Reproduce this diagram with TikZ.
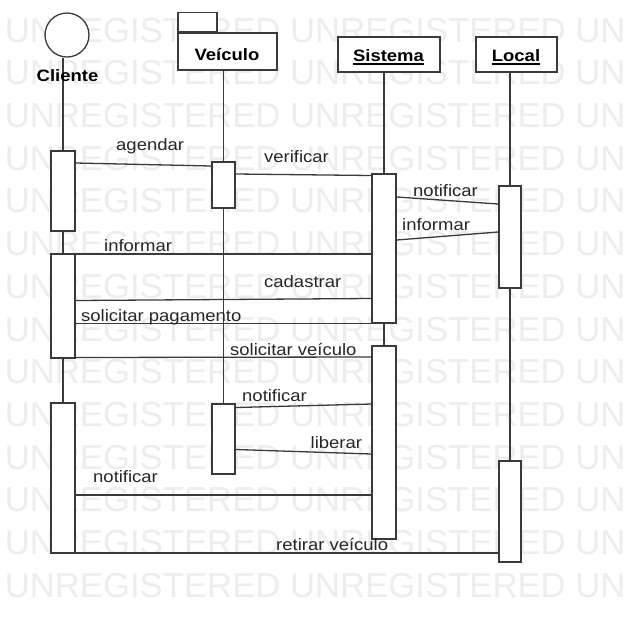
\documentclass[tikz,border=0pt]{standalone}
\usepackage{fontspec}
\setmainfont{Liberation Sans}[FakeStretch=1.12]
\newfontfamily\wmfont{Liberation Sans}
\usepackage{tikz}
\usepackage{xcolor}

\definecolor{umlline}{HTML}{3A3A3A}
\definecolor{umlmark}{HTML}{EDEDED}

\pgfdeclarelayer{wm}
\pgfdeclarelayer{bg}
\pgfsetlayers{wm,bg,main}

% underlined head label
\newcommand{\headul}[1]{{\setbox0\hbox{#1}\rlap{\rule[-3.2pt]{\wd0}{1.3pt}}\box0}}

\begin{document}
\begin{tikzpicture}[
            x = 1pt, y = -1pt, % pixel grid, y downwards
            font = \fontsize{16.5}{19}\selectfont,
            semithick % line style
        ]

        \tikzstyle{every node}=[inner sep = 0pt]
        \tikzstyle{head}=[
            shape = rectangle,
            draw = umlline,
            fill = white,
            line width = 1.6pt
        ]
        \tikzstyle{act}=[
            shape = rectangle,
            draw = umlline,
            fill = white,
            line width = 1.6pt,
            minimum width = 24pt
        ]
        \tikzstyle{msg}=[draw = umlline, line width = 1.3pt]
        \tikzstyle{life}=[draw = umlline, line width = 1.4pt]
        \tikzstyle{lbl}=[anchor = base west, text = black!85]

\useasboundingbox (0,0) rectangle (627,622);

% watermark
\begin{pgfonlayer}{wm}
\begin{scope}
\clip (0,0) rectangle (627,622);
\foreach \r in {0,...,13}
  \node[anchor=base west, text=umlmark, font=\wmfont\fontsize{34.7}{40}\selectfont] (wm\r) at (4.6, 42.1+42.7*\r) {UNREGISTERED UNREGISTERED UNREGISTERED};
\end{scope}
\end{pgfonlayer}

% heads
\node[shape=circle,draw=umlline,fill=white,line width=1.3pt,minimum size=44pt] (cliente) at (67,35) {};
\node[anchor=base,font=\fontsize{16.5}{19}\selectfont\bfseries] (clienteTxt) at (67.5,81.5) {Cliente};
\node[head,minimum width=99pt,minimum height=37pt] (veiculo) at (227.5,51.5) {};
\node[head,anchor=south west,minimum width=39pt,minimum height=19pt] (veiculoTab) at (veiculo.north west) {};
\node[anchor=base,font=\fontsize{16.5}{19}\selectfont\bfseries] (veiculoTxt) at (227,60) {Veículo};
\node[head,minimum width=102pt,minimum height=35pt] (sistema) at (389,54.5) {};
\node[anchor=base,font=\fontsize{16.5}{19}\selectfont\bfseries] (sistemaTxt) at (388.5,61.5) {\headul{Sistema}};
\node[head,minimum width=81pt,minimum height=35pt] (local) at (516.5,54.5) {};
\node[anchor=base,font=\fontsize{16.5}{19}\selectfont\bfseries] (localTxt) at (516,61.5) {\headul{Local}};

% activations
\node[act,minimum height=80pt] (cli1) at (63,191) {};
\node[act,minimum height=104pt] (cli2) at (63,306) {};
\node[act,minimum height=150pt] (cli3) at (63,478) {};
\node[act,minimum width=23pt,minimum height=46pt] (vei1) at (223.5,185) {};
\node[act,minimum width=23pt,minimum height=70pt] (vei2) at (223.5,439) {};
\node[act,minimum height=149pt] (sis1) at (384,248.5) {};
\node[act,minimum height=193pt] (sis2) at (384,442.5) {};
\node[act,minimum width=22pt,minimum height=102pt] (loc1) at (510,237) {};
\node[act,minimum width=22pt,minimum height=101pt] (loc2) at (510,511.5) {};

% lifelines
\begin{pgfonlayer}{bg}
 \draw [life] (cli1 |- cliente.south) -- (cli3.south);
 \draw [life] (vei1 |- veiculo.south) -- (vei2.north);
 \draw [life] (sis1 |- sistema.south) -- (sis2.south);
 \draw [life] (loc1 |- local.south) -- (loc2.south);
\end{pgfonlayer}

% messages
 \path [msg] (cli1.east |- 0,163) edge (vei1.west |- 0,166);
 \path [msg] (vei1.east |- 0,174) edge (sis1.west |- 0,175.5);
 \path [msg] (sis1.east |- 0,197) edge (loc1.west |- 0,204);
 \path [msg] (loc1.west |- 0,232) edge (sis1.east |- 0,240);
 \path [msg] (sis1.west |- 0,254) edge (cli2.east |- 0,254);
 \path [msg] (cli2.east |- 0,300.5) edge (sis1.west |- 0,298.5);
 \path [msg] (cli2.east |- 0,323.5) edge (sis1.west |- 0,323.5);
 \path [msg] (cli2.east |- 0,357.5) edge (sis2.west |- 0,357);
 \path [msg] (sis2.west |- 0,404) edge (vei2.east |- 0,407.5);
 \path [msg] (sis2.west |- 0,454) edge (vei2.east |- 0,449.5);
 \path [msg] (sis2.west |- 0,495) edge (cli3.east |- 0,495);
 \path [msg] (cli3.east |- 0,553) edge (loc2.west |- 0,553);

% message labels
\node[lbl] (agendarTxt) at (116,150) {agendar};
\node[lbl] (verificarTxt) at (264,162) {verificar};
\node[lbl] (notificarA) at (413,196) {notificar};
\node[lbl] (informarA) at (402,230) {informar};
\node[lbl] (informarB) at (104,251) {informar};
\node[lbl] (cadastrarTxt) at (264,287.5) {cadastrar};
\node[lbl] (pagamentoTxt) at (81,321.5) {solicitar pagamento};
\node[lbl] (veiculoReq) at (230,355.5) {solicitar veículo};
\node[lbl] (notificarB) at (242,401.5) {notificar};
\node[lbl] (liberarTxt) at (310.5,448) {liberar};
\node[lbl] (notificarC) at (93,482.5) {notificar};
\node[lbl] (retirarTxt) at (276,550.5) {retirar veículo};
\end{tikzpicture}
\end{document}
